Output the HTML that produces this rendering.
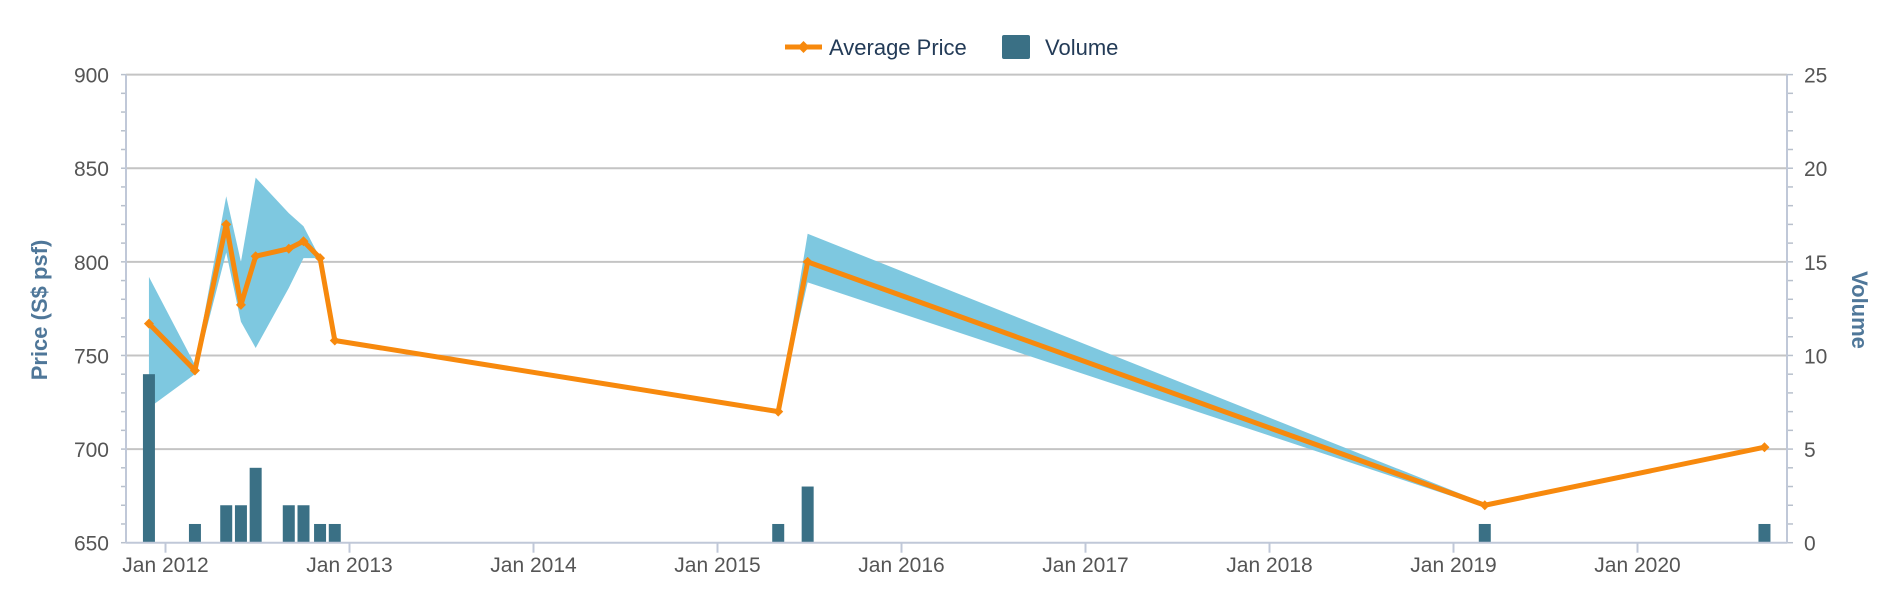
<!DOCTYPE html>
<html><head><meta charset="utf-8"><style>
body{margin:0;background:#fff;}
svg{display:block;font-family:"Liberation Sans","DejaVu Sans",sans-serif;}
</style></head><body>
<svg id="chart" width="1900" height="600" viewBox="0 0 1900 600" xmlns="http://www.w3.org/2000/svg">
<g>
<g>
<line x1="785" y1="47" x2="822" y2="47" stroke="#f7890d" stroke-width="5"/>
<path d="M803.5 41 L809.5 47 L803.5 53 L797.5 47Z" fill="#f7890d"/>
<text x="829" y="55" font-size="22" fill="#233b57">Average Price</text>
</g>
<g>
<rect x="1002" y="35" width="28" height="24" rx="2" fill="#3a7085"/>
<text x="1045" y="55" font-size="22" fill="#233b57">Volume</text>
</g>
</g>
<g id="grid"></g>
<g id="band"></g>
<g id="bars"></g>
<g id="line"></g>
<g id="axes"></g>
<text transform="translate(47,310) rotate(-90)" text-anchor="middle" font-size="22" font-weight="bold" fill="#4f7799">Price (S$ psf)</text>
<text transform="translate(1852,310) rotate(90)" text-anchor="middle" font-size="22" font-weight="bold" fill="#4f7799">Volume</text>
</svg>
<script>
const dates = [2011.91,2012.16,2012.33,2012.41,2012.49,2012.67,2012.75,2012.84,2012.92,2015.33,2015.49,2019.17,2020.69];
const avgPrice = [767,742,820,777,803,807,811,802,758,720,800,670,701];
const rangeHigh = [792,745,835,800,845,826,819,802,758,720,815,671,701];
const rangeLow = [722,740,805,768,754,786,802,802,758,720,789,669,701];
const volume = [9,1,2,2,4,2,2,1,1,1,3,1,1];
const priceTicks = [650,700,750,800,850,900];
const volumeTicks = [0,5,10,15,20,25];
const yearTicks = [2012,2013,2014,2015,2016,2017,2018,2019,2020];
const yearLabels = ["Jan 2012","Jan 2013","Jan 2014","Jan 2015","Jan 2016","Jan 2017","Jan 2018","Jan 2019","Jan 2020"];

const L=126,R=1787,T=74.6,B=542.7;
const NS="http://www.w3.org/2000/svg";
function xS(d){return 165.5+(d-2012)*184;}
function yP(p){return B-(p-650)/250*(B-T);}
function yV(v){return B-v/25*(B-T);}
function mk(tag,attrs,parent,txt){const e=document.createElementNS(NS,tag);for(const k in attrs)e.setAttribute(k,attrs[k]);if(txt!==undefined)e.textContent=txt;parent.appendChild(e);return e;}
const grid=document.getElementById('grid'),axes=document.getElementById('axes');
priceTicks.forEach((p,i)=>{
  const y=yP(p);
  if(p>650){const g=mk('line',{x1:L,x2:R,y1:y,y2:y,stroke:'#c4c4c4','stroke-width':2},grid);
  
  }
  const t=mk('text',{x:109,y:y+8,'text-anchor':'end','font-size':21,fill:'#555'},axes,String(p));
  
  
});
volumeTicks.forEach(v=>{
  const t=mk('text',{x:1804,y:yV(v)+8,'font-size':21,fill:'#555'},axes,String(v));
  
  
});
for(let k=0;k<=25;k++){
  const y=B-k/25*(B-T);
  mk('line',{x1:L-5,x2:L,y1:y,y2:y,stroke:'#b8c0cc','stroke-width':1.5},axes);
  mk('line',{x1:R,x2:R+6,y1:y,y2:y,stroke:'#b8c0cc','stroke-width':1.5},axes);
}
mk('line',{x1:L,x2:L,y1:T,y2:B,stroke:'#c0c8d8','stroke-width':2},axes);
mk('line',{x1:R,x2:R,y1:T,y2:B,stroke:'#c0c8d8','stroke-width':2},axes);
mk('line',{x1:L,x2:R,y1:B,y2:B,stroke:'#c0c8d8','stroke-width':2},axes);
yearTicks.forEach((yr,i)=>{
  const x=xS(yr);
  mk('line',{x1:x,x2:x,y1:B,y2:B+10,stroke:'#c0c8d8','stroke-width':2},axes);
  const t=mk('text',{x:x,y:572,'text-anchor':'middle','font-size':21,fill:'#555'},axes,yearLabels[i]);
  
  
});
// band
let pts=dates.map((d,i)=>xS(d)+','+yP(rangeHigh[i]));
for(let i=dates.length-1;i>=0;i--)pts.push(xS(dates[i])+','+yP(rangeLow[i]));
const band=mk('polygon',{points:pts.join(' '),fill:'#7ec8e0'},document.getElementById('band'));


// bars
const bars=document.getElementById('bars');
volume.forEach((v,i)=>{
  const x=xS(dates[i]);
  const r=mk('rect',{x:x-6,y:yV(v),width:12,height:B-yV(v),fill:'#3a7085'},bars);
  
  
});
// line
const lg=document.getElementById('line');
const pl=mk('polyline',{points:dates.map((d,i)=>xS(d)+','+yP(avgPrice[i])).join(' '),fill:'none',stroke:'#f7890d','stroke-width':5,'stroke-linejoin':'round'},lg);


dates.forEach((d,i)=>{
  const x=xS(d),y=yP(avgPrice[i]);
  const m=mk('path',{d:`M${x} ${y-5}L${x+5} ${y}L${x} ${y+5}L${x-5} ${y}Z`,fill:'#f7890d'},lg);
  
  
});
</script>
</body></html>
